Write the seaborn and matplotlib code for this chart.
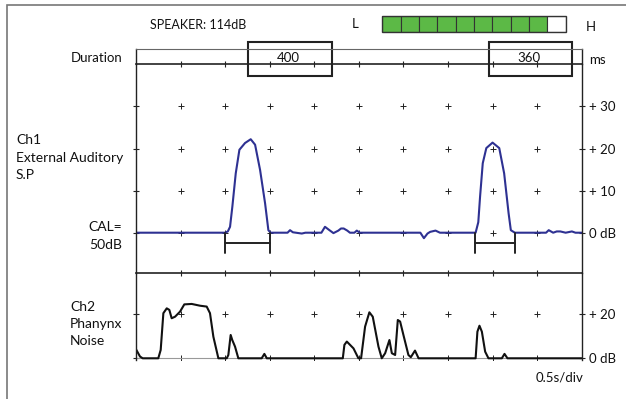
import matplotlib
matplotlib.use("Agg")
import matplotlib.pyplot as plt
import matplotlib.patches as mpatches
import seaborn as sns
import pandas as pd
import numpy as np

# ---------------- data ----------------
speaker_label = "SPEAKER: 114dB"
meter_cells = 10
meter_level = 9

durations = ["400", "360"]
dur_box_start = [1.257, 3.96]   # seconds
dur_box_end = [2.195, 4.888]

ch1_t = [0, 1.0, 1.03, 1.055, 1.081, 1.119, 1.16, 1.223, 1.287, 1.336, 1.392, 1.448, 1.485, 1.51,
         1.70, 1.728, 1.76, 1.86, 1.90,
         2.08, 2.12, 2.17, 2.215, 2.27, 2.30, 2.33, 2.37, 2.40, 2.45, 2.477, 2.51,
         3.15, 3.19, 3.23, 3.27, 3.30, 3.36, 3.41,
         3.81, 3.84, 3.86, 3.89, 3.93, 4.0, 4.075, 4.13, 4.18, 4.205, 4.25,
         4.60, 4.63, 4.68, 4.72, 4.76, 4.82, 4.89, 4.93, 5.0]
ch1_db = [0, 0, 0.3, 1.4, 6.2, 14.1, 19.7, 21.3, 22.2, 20.9, 14.9, 7.0, 0.6, 0,
          0, 0.6, 0.1, -0.2, 0,
          0, 1.4, 0.6, -0.1, 0.5, 1.0, 1.0, 0.5, 0, 0, 0.5, 0,
          0, 0, -1.3, -0.2, 0.2, 0.5, 0,
          0, 2.5, 8.6, 16.5, 20.1, 21.4, 20.1, 14.1, 4.6, 0.6, 0,
          0, 0.6, 0, 0.3, 0.3, 0, 0.3, 0, 0]

pulse_start = [1.0, 3.80]
pulse_end = [1.5, 4.25]

ch2_t = [0, 0.045, 0.075, 0.25, 0.277, 0.307, 0.345, 0.374, 0.40, 0.438, 0.494, 0.542, 0.625,
         0.718, 0.793, 0.83, 0.868, 0.924, 1.018, 1.036, 1.062, 1.08, 1.111, 1.148, 1.41, 1.44,
         1.467, 2.32, 2.338, 2.365, 2.44, 2.495, 2.525, 2.57, 2.618, 2.656, 2.72, 2.757, 2.795,
         2.843, 2.87, 2.907, 2.937, 2.963, 3.0, 3.056, 3.083, 3.13, 3.17, 3.81, 3.83, 3.853,
         3.88, 3.917, 3.954, 4.104, 4.134, 4.167, 5.0]
ch2_db = [4.1, 0.8, 0, 0, 3.8, 20.5, 22.7, 22.0, 18.2, 18.9, 21.2, 24.5, 24.7,
          23.9, 23.5, 20.5, 9.8, 0, 0, 1.5, 10.6, 8.3, 5.3, 0, 0, 2.0,
          0, 0, 6.1, 7.6, 4.5, 0, 0, 14.4, 20.9, 18.9, 5.3, 0, 2.3,
          8.3, 2.3, 1.5, 17.4, 16.7, 10.6, 1.5, 0.5, 3.5, 0, 0, 12.1, 14.8,
          12.1, 3.0, 0, 0, 2.0, 0, 0]

ch1_ticks = [0, 10, 20, 30]
ch1_ticklabels = ["0 dB", "+ 10", "+ 20", "+ 30"]
ch2_ticks = [0, 20]
ch2_ticklabels = ["0 dB", "+ 20"]
grid_cols = [0.5, 1.0, 1.5, 2.0, 2.5, 3.0, 3.5, 4.0, 4.5]

# ---------------- style ----------------
sns.set_theme(style="white")
plt.rcParams['font.family'] = ['Lato', 'DejaVu Sans']

W, H = 626, 399
fig = plt.figure(figsize=(W / 100, H / 100), dpi=100)

def fx(px):
    return px / W

def fy(py):
    return 1 - py / H

XL, XR = 136, 581.7

def add_ax(top, bottom):
    return fig.add_axes([fx(XL), fy(bottom), fx(XR - XL), (bottom - top) / H])

ax_dur = add_ax(49.3, 64.3)
ax1 = add_ax(64.3, 272.7)
ax2 = add_ax(272.7, 359.5)

line_c = "#222222"
for ax in (ax_dur, ax1, ax2):
    ax.set_facecolor("none")
    ax.set_xlim(0, 5)
    ax.set_xticks([])
    for s in ax.spines.values():
        s.set_color(line_c)
        s.set_linewidth(1.0)

# duration strip
ax_dur.set_ylim(0, 1)
ax_dur.set_yticks([])
ax_dur.spines['top'].set_color("#666666")
ax_dur.spines['top'].set_linewidth(0.8)
ax_dur.spines['bottom'].set_linewidth(1.2)
ax_dur.plot(grid_cols, [0] * len(grid_cols), linestyle="none", marker="|", markersize=5,
            color=line_c, markeredgewidth=0.8, clip_on=False)
for lab, a, b in zip(durations, dur_box_start, dur_box_end):
    ax_dur.add_patch(mpatches.Rectangle((a, -0.78), b - a, 2.287, fill=False,
                                        edgecolor=line_c, linewidth=1.5, clip_on=False))
    ax_dur.text((a + b) / 2 - 0.02, 0.45, lab, ha="center", va="center", fontsize=9.5,
                color="#111111")

# ch1
ax1.set_ylim(-9.5, 40)
ax1.spines['top'].set_visible(False)
ax1.spines['bottom'].set_linewidth(1.2)
gx, gy = np.meshgrid(grid_cols, ch1_ticks)
sns.scatterplot(x=gx.ravel(), y=gy.ravel(), marker="+", s=20, color=line_c, linewidth=0.7, ax=ax1)
sns.lineplot(x=ch1_t, y=ch1_db, color="#2e3192", linewidth=1.5, ax=ax1, estimator=None)
for a, b in zip(pulse_start, pulse_end):
    ax1.plot([a, b], [-2.5, -2.5], color=line_c, linewidth=1.4)
    ax1.plot([a, a], [0, -4.8], color=line_c, linewidth=1.4)
    ax1.plot([b, b], [0, -4.8], color=line_c, linewidth=1.4)
ax1.plot(grid_cols, [-9.5] * len(grid_cols), linestyle="none", marker="|", markersize=5,
         color=line_c, markeredgewidth=0.8, clip_on=False)
ax1.set_yticks(ch1_ticks)
ax1.tick_params(axis="y", which="both", direction="inout", length=5, width=0.8, color=line_c,
                left=True, right=True, labelleft=False, labelright=True, labelsize=9.5,
                labelcolor="#111111", pad=3)
ax1.set_yticklabels(ch1_ticklabels)
ax1.set_xlabel("")
ax1.set_ylabel("")

# ch2
ax2.set_ylim(-0.55, 38.9)
ax2.spines['top'].set_visible(False)
ax2.spines['bottom'].set_visible(False)
gx2, gy2 = np.meshgrid(grid_cols, ch2_ticks)
sns.scatterplot(x=gx2.ravel(), y=gy2.ravel(), marker="+", s=20, color=line_c, linewidth=0.7, ax=ax2)
ax2.axhline(0, color="#999999", linewidth=0.8)
sns.lineplot(x=ch2_t, y=ch2_db, color="#111111", linewidth=1.5, ax=ax2, estimator=None)
ax2.set_yticks(ch2_ticks)
ax2.tick_params(axis="y", which="both", direction="inout", length=5, width=0.8, color=line_c,
                left=True, right=True, labelleft=False, labelright=True, labelsize=9.5,
                labelcolor="#111111", pad=3)
ax2.set_yticklabels(ch2_ticklabels)
ax2.set_xlabel("")
ax2.set_ylabel("")

# meter
ax_m = fig.add_axes([fx(382.3), fy(31.7), fx(565.7 - 382.3), (31.7 - 15.7) / H])
cols = ["#5cb946"] * meter_level + ["white"] * (meter_cells - meter_level)
ax_m.bar(np.arange(meter_cells), [1] * meter_cells, width=1, align="edge", color=cols,
         edgecolor="#333333", linewidth=0.8)
ax_m.set_xlim(0, meter_cells)
ax_m.set_ylim(0, 1)
ax_m.axis("off")
ax_m.add_patch(mpatches.Rectangle((0, 0), meter_cells, 1, fill=False, edgecolor="#333333",
                                  linewidth=1.0, clip_on=False))

# outer border
fig.patches.append(mpatches.Rectangle((fx(6.5), fy(H + 5)), 1.1, fy(4.7) - fy(H + 5),
                                      transform=fig.transFigure, fill=False,
                                      edgecolor="#777777", linewidth=1.2))

# texts
tc = "#111111"
fs = 9.5
fig.text(fx(150), fy(25), speaker_label, ha="left", va="center", fontsize=9, color=tc)
fig.text(fx(354.7), fy(24), "L", ha="center", va="center", fontsize=fs, color=tc)
fig.text(fx(590.7), fy(27), "H", ha="center", va="center", fontsize=fs, color=tc)
fig.text(fx(123), fy(58), "Duration", ha="right", va="center", fontsize=fs, color=tc)
fig.text(fx(589), fy(60), "ms", ha="left", va="center", fontsize=fs, color=tc)
for txt, y in zip(["Ch1", "External Auditory", "S.P"], [140, 157.5, 175]):
    fig.text(fx(16), fy(y), txt, ha="left", va="center", fontsize=10, color=tc)
for txt, y in zip(["CAL=", "50dB"], [227, 244.5]):
    fig.text(fx(122.5), fy(y), txt, ha="right", va="center", fontsize=10, color=tc)
for txt, y in zip(["Ch2", "Phanynx", "Noise"], [307, 324, 341]):
    fig.text(fx(70), fy(y), txt, ha="left", va="center", fontsize=10, color=tc)
fig.text(fx(560), fy(377), "0.5s/div", ha="center", va="center", fontsize=fs, color=tc)

fig.savefig("out.png", dpi=100)
